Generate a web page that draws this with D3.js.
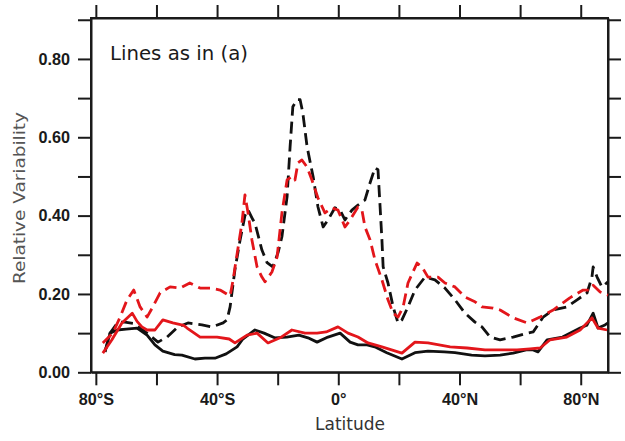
<!DOCTYPE html>
<html>
<head>
<meta charset="utf-8">
<script src="https://cdn.jsdelivr.net/npm/d3@7"></script>
<style>
  html, body { margin: 0; padding: 0; background: #fff; }
  svg { display: block; }
</style>
</head>
<body>
<svg id="chart" width="625" height="441"></svg>
<script>
// ---- Data ----
const xTickValues = [-80, -60, -40, -20, 0, 20, 40, 60, 80];
const xTickLabels = ["80°S", "", "40°S", "", "0°", "", "40°N", "", "80°N"];
const yTickValues = [0, 0.1, 0.2, 0.3, 0.4, 0.5, 0.6, 0.7, 0.8, 0.9];
const yTickLabels = ["0.00", "", "0.20", "", "0.40", "", "0.60", "", "0.80", ""];

const latBlackSolid = [-77.0,-75.3,-73.0,-70.0,-66.4,-63.1,-60.5,-57.9,-54.0,-51.6,-47.3,-44.0,-40.7,-37.0,-33.4,-31.5,-27.5,-24.5,-21.0,-17.0,-13.0,-10.0,-7.0,-3.4,0.6,3.9,6.5,9.5,12.0,16.0,21.0,25.3,29.6,35.0,38.5,44.0,48.4,53.4,57.7,62.0,64.3,65.9,68.9,74.0,79.8,82.0,84.1,85.7,88.0,89.0];
const valBlackSolid = [0.052,0.100,0.108,0.110,0.113,0.095,0.070,0.054,0.045,0.044,0.034,0.036,0.036,0.047,0.065,0.085,0.108,0.100,0.088,0.090,0.095,0.088,0.077,0.090,0.100,0.077,0.070,0.070,0.065,0.050,0.034,0.050,0.054,0.052,0.050,0.044,0.042,0.044,0.049,0.057,0.057,0.052,0.083,0.090,0.113,0.120,0.151,0.113,0.121,0.126];

const latRedSolid = [-77.7,-74.7,-71.4,-68.0,-66.4,-64.8,-63.1,-60.5,-57.9,-54.6,-51.0,-49.9,-45.6,-40.0,-36.0,-34.1,-30.1,-26.8,-23.2,-19.2,-15.3,-11.0,-7.0,-4.0,-0.1,3.2,6.5,9.8,14.4,21.0,25.3,29.6,36.9,42.5,48.4,53.4,59.0,63.3,66.6,69.9,75.4,79.8,83.7,85.7,88.7];
const valRedSolid = [0.049,0.083,0.126,0.151,0.130,0.116,0.108,0.108,0.134,0.126,0.120,0.113,0.090,0.090,0.085,0.075,0.095,0.100,0.075,0.088,0.108,0.100,0.100,0.103,0.116,0.100,0.090,0.075,0.065,0.049,0.077,0.075,0.065,0.062,0.057,0.057,0.057,0.060,0.062,0.083,0.090,0.108,0.139,0.113,0.108];

const latBlackDashed = [-77.0,-75.3,-72.7,-70.4,-67.7,-64.0,-61.2,-59.5,-56.5,-52.9,-49.6,-45.0,-41.7,-38.0,-36.7,-35.7,-34.1,-32.4,-30.8,-29.8,-28.2,-27.5,-25.2,-23.5,-21.6,-19.9,-18.6,-16.9,-15.9,-15.0,-13.6,-12.6,-11.7,-10.3,-8.3,-6.7,-5.0,-3.4,-1.1,0.6,2.2,4.5,6.5,8.8,10.5,12.1,13.1,13.8,14.4,14.8,16.4,18.1,19.7,21.0,23.0,25.3,28.6,31.9,35.2,38.5,41.8,45.1,47.4,50.1,53.4,57.7,62.3,64.3,67.6,70.9,75.4,78.8,82.1,83.7,84.1,85.4,87.0,89.0];
const valBlackDashed = [0.052,0.100,0.128,0.128,0.125,0.105,0.088,0.077,0.090,0.116,0.126,0.121,0.116,0.126,0.134,0.167,0.262,0.338,0.400,0.415,0.390,0.381,0.312,0.280,0.269,0.305,0.346,0.448,0.576,0.678,0.696,0.696,0.662,0.576,0.499,0.422,0.371,0.389,0.420,0.414,0.389,0.414,0.427,0.440,0.484,0.522,0.517,0.422,0.338,0.269,0.228,0.167,0.126,0.134,0.167,0.210,0.243,0.236,0.215,0.185,0.151,0.128,0.116,0.090,0.083,0.090,0.100,0.103,0.141,0.159,0.167,0.185,0.203,0.243,0.269,0.243,0.218,0.231];

const latRedDashed = [-77.7,-74.4,-72.0,-69.7,-67.5,-65.4,-63.1,-61.2,-58.8,-55.5,-52.2,-49.0,-45.6,-42.3,-39.0,-35.7,-34.7,-34.1,-31.8,-30.8,-29.8,-28.5,-26.8,-25.2,-24.2,-21.9,-20.2,-18.6,-16.9,-15.3,-14.3,-13.3,-12.0,-10.3,-8.7,-6.7,-4.4,-2.1,-0.1,2.2,3.9,6.5,7.8,8.8,10.5,12.1,14.4,16.4,18.1,19.7,21.4,23.0,26.0,27.6,29.6,32.9,35.2,38.5,41.8,45.1,47.4,51.1,53.4,57.7,62.3,66.6,70.9,76.4,80.8,83.1,84.1,86.4,89.0];
const valRedDashed = [0.075,0.100,0.141,0.185,0.210,0.167,0.141,0.167,0.203,0.218,0.215,0.228,0.215,0.215,0.210,0.195,0.236,0.267,0.381,0.453,0.408,0.338,0.269,0.243,0.231,0.256,0.294,0.407,0.491,0.500,0.491,0.535,0.542,0.524,0.491,0.445,0.407,0.420,0.414,0.371,0.389,0.422,0.414,0.371,0.338,0.287,0.236,0.185,0.151,0.141,0.167,0.228,0.279,0.269,0.243,0.243,0.228,0.218,0.192,0.180,0.167,0.164,0.159,0.139,0.126,0.141,0.159,0.190,0.210,0.210,0.222,0.205,0.197];

const titleText = "Lines as in (a)";
const xAxisTitle = "Latitude";
const yAxisTitle = "Relative Variability";

// ---- Layout ----
const plotL = 91, plotR = 608, plotT = 18, plotB = 372.3;
const svg = d3.select("#chart");

const x = d3.scaleLinear().domain([-81.6, 89.0]).range([plotL, plotR]);
const y = d3.scaleLinear().domain([0, 0.9045]).range([plotB, plotT]);

const axisColor = "#1a1a1a";
const tickFont = "'Liberation Sans', Arial, sans-serif";

function styleAxis(g) {
  g.selectAll("path.domain").attr("stroke", axisColor).attr("stroke-width", 2);
  g.selectAll(".tick line").attr("stroke", axisColor).attr("stroke-width", 2);
  g.selectAll(".tick text").attr("fill", "#1a1a1a")
    .attr("font-family", tickFont).attr("font-weight", "bold").attr("font-size", 16.2);
}

// bottom axis
svg.append("g").attr("transform", `translate(0,${plotB})`)
  .call(d3.axisBottom(x).tickValues(xTickValues).tickSize(13).tickSizeOuter(0).tickPadding(8)
    .tickFormat((d, i) => xTickLabels[i]))
  .call(styleAxis);
// top axis
svg.append("g").attr("transform", `translate(0,${plotT})`)
  .call(d3.axisTop(x).tickValues(xTickValues).tickSize(13).tickSizeOuter(0).tickFormat(() => ""))
  .call(styleAxis);
// left axis
svg.append("g").attr("transform", `translate(${plotL},0)`)
  .call(d3.axisLeft(y).tickValues(yTickValues).tickSize(13).tickSizeOuter(0).tickPadding(8)
    .tickFormat((d, i) => yTickLabels[i]))
  .call(styleAxis);
// right axis
svg.append("g").attr("transform", `translate(${plotR},0)`)
  .call(d3.axisRight(y).tickValues(yTickValues).tickSize(13).tickSizeOuter(0).tickFormat(() => ""))
  .call(styleAxis);

// frame
svg.append("rect").attr("x", plotL).attr("y", plotT)
  .attr("width", plotR - plotL).attr("height", plotB - plotT)
  .attr("fill", "none").attr("stroke", axisColor).attr("stroke-width", 2);

// ---- Lines ----
const line = d3.line().x(d => x(d[0])).y(d => y(d[1])).curve(d3.curveLinear);
const zip = (a, b) => a.map((v, i) => [v, b[i]]);
const red = "#e3161b";
const series = [
  { lat: latBlackSolid, val: valBlackSolid, color: "#111", dash: null },
  { lat: latBlackDashed, val: valBlackDashed, color: "#111", dash: "12,6" },
  { lat: latRedSolid, val: valRedSolid, color: red, dash: null },
  { lat: latRedDashed, val: valRedDashed, color: red, dash: "12,6" }
];
const gLines = svg.append("g");
series.forEach(s => {
  gLines.append("path")
    .attr("d", line(zip(s.lat, s.val)))
    .attr("fill", "none")
    .attr("stroke", s.color)
    .attr("stroke-width", 2.8)
    .attr("stroke-linejoin", "round")
    .attr("stroke-dasharray", s.dash);
});

// ---- Texts ----
svg.append("text").attr("x", 110).attr("y", 60)
  .attr("font-family", "'DejaVu Sans', sans-serif").attr("font-size", 19)
  .attr("fill", "#1a1a1a").attr("textLength", 138).attr("lengthAdjust", "spacingAndGlyphs")
  .text(titleText);

svg.append("text").attr("x", 350).attr("y", 430).attr("text-anchor", "middle")
  .attr("font-family", "'DejaVu Sans', sans-serif").attr("font-size", 17)
  .attr("fill", "#333").attr("textLength", 70).attr("lengthAdjust", "spacingAndGlyphs")
  .text(xAxisTitle);

svg.append("text").attr("transform", "translate(25,198) rotate(-90)").attr("text-anchor", "middle")
  .attr("font-family", "'DejaVu Sans', sans-serif").attr("font-size", 16)
  .attr("fill", "#555").attr("textLength", 172).attr("lengthAdjust", "spacingAndGlyphs")
  .text(yAxisTitle);
</script>
</body>
</html>
